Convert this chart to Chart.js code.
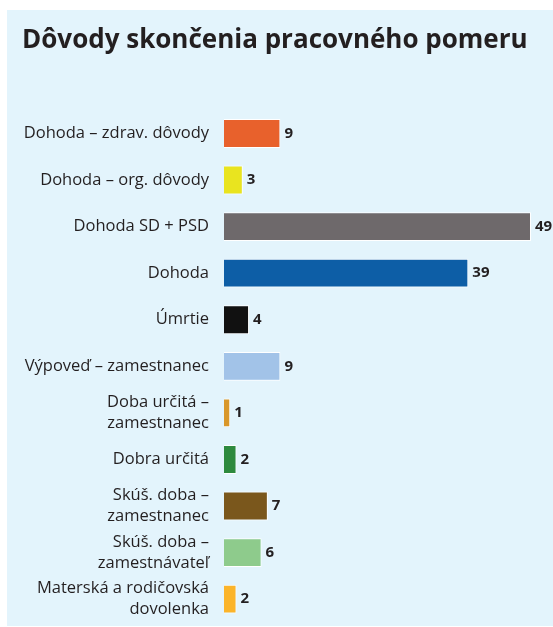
<!DOCTYPE html>
<html>
<head>
<meta charset="utf-8">
<script src="https://cdn.jsdelivr.net/npm/chart.js@4"></script>
<style>
  html, body { margin: 0; padding: 0; background: #fff; }
  #wrap { position: relative; width: 553px; height: 627px; overflow: hidden; }
  #panel { position: absolute; left: 7px; top: 10px; right: 0; bottom: 1px; background: #e3f4fc; }
  #chart { position: absolute; left: 0; top: 0; }
</style>
</head>
<body>
<div id="wrap">
  <div id="panel"></div>
  <canvas id="chart" width="553" height="640"></canvas>
</div>
<script>
const categories = [
    'Dohoda – zdrav. dôvody',
    'Dohoda – org. dôvody',
    'Dohoda SD + PSD',
    'Dohoda',
    'Úmrtie',
    'Výpoveď – zamestnanec',
    ['Doba určitá –', 'zamestnanec'],
    'Dobra určitá',
    ['Skúš. doba –', 'zamestnanec'],
    ['Skúš. doba –', 'zamestnávateľ'],
    ['Materská a rodičovská', 'dovolenka']
];
const values = [9, 3, 49, 39, 4, 9, 1, 2, 7, 6, 2];
const barColors = [
    '#e8612c', '#e9e41f', '#6e696b', '#0d5ea6', '#111111', '#a2c3e8',
    '#d9972a', '#2e8a3e', '#7a571c', '#8ecb8c', '#fbb42a'
];

const valueLabels = {
    id: 'valueLabels',
    afterDatasetsDraw(chart) {
        const ctx = chart.ctx;
        const meta = chart.getDatasetMeta(0);
        ctx.save();
        ctx.font = 'bold 15px "Open Sans"';
        ctx.fillStyle = '#231f20';
        ctx.textBaseline = 'middle';
        ctx.textAlign = 'left';
        meta.data.forEach((bar, i) => {
            ctx.fillText(values[i], bar.x + 4, bar.y);
        });
        ctx.restore();
    }
};

const ctx = document.getElementById('chart');
new Chart(ctx, {
    type: 'bar',
    data: {
        labels: categories,
        datasets: [{
            data: values,
            backgroundColor: barColors,
            borderColor: '#ffffff',
            borderWidth: 1,
            categoryPercentage: 1,
            barPercentage: 0.62
        }]
    },
    options: {
        indexAxis: 'y',
        responsive: false,
        animation: false,
        layout: { padding: { left: 22, right: 22, top: 0, bottom: 0 } },
        plugins: {
            legend: { display: false },
            tooltip: { enabled: false },
            title: {
                display: true,
                text: 'Dôvody skončenia pracovného pomeru',
                align: 'start',
                color: '#231f20',
                font: { family: 'Open Sans', size: 26, weight: 'bold', lineHeight: 1.2 },
                padding: { top: 25, bottom: 54 }
            }
        },
        scales: {
            x: { display: false, min: 0, max: 49 },
            y: {
                grid: { display: false },
                border: { display: false },
                ticks: {
                    color: '#231f20',
                    padding: 7,
                    font: { family: 'Open Sans', size: 16.5, lineHeight: 1.28 }
                },
                afterFit(scale) { scale.width = 202; }
            }
        }
    },
    plugins: [valueLabels]
});
</script>
</body>
</html>
